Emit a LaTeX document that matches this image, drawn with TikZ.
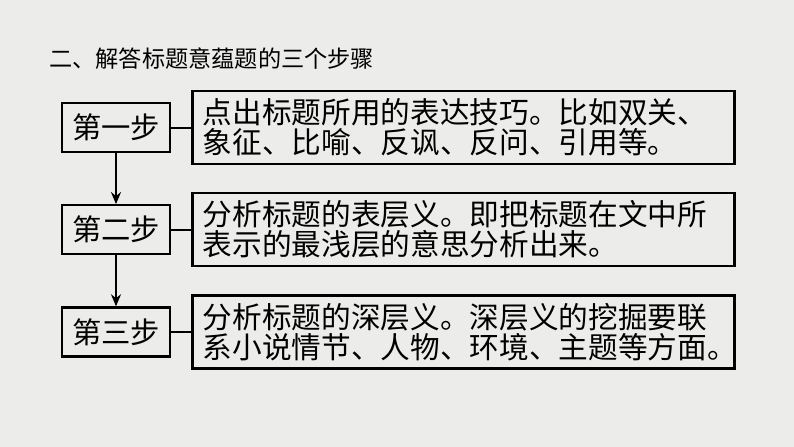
\documentclass[tikz,border=0pt]{standalone}
\usepackage{fontspec}
\setmainfont{Noto Sans CJK SC}
\usetikzlibrary{positioning,arrows.meta}

\definecolor{paper}{RGB}{236,236,234}

\tikzset{
  stepbox/.style={draw, line width=1.65pt, minimum width=81pt, minimum height=36.75pt,
    inner sep=0pt, font=\fontsize{22pt}{22.5pt}\selectfont},
  descbox/.style={draw, line width=1.8pt, minimum width=406.5pt, minimum height=54.75pt,
    inner xsep=8pt, inner ysep=0pt, text width=390.5pt, align=left,
    font=\fontsize{22.25pt}{22.5pt}\selectfont},
  flow/.style={line width=1.2pt, -{Stealth[length=9pt,width=7.5pt]}},
  tie/.style={line width=1.5pt}
}

\begin{document}
\begin{tikzpicture}[x=0.75pt,y=-0.75pt]

  \fill[paper] (0,0) rectangle (794,447);
  \useasboundingbox (0,0) rectangle (794,447);

  \node[anchor=west, inner sep=0pt, font=\fontsize{17.4pt}{18pt}\selectfont] (title) at (49,59)
    {二、解答标题意蕴题的三个步骤};

  \node[stepbox] (step1) at (116,127.5) {第一步};
  \node[stepbox, below=38.25pt of step1] (step2) {第二步};
  \node[stepbox, below=38.25pt of step2] (step3) {第三步};

  \node[descbox, right=15pt of step1] (desc1)
    {点出标题所用的表达技巧。比如双关、\\象征、比喻、反讽、反问、引用等。};
  \node[descbox, right=15pt of step2] (desc2)
    {分析标题的表层义。即把标题在文中所\\表示的最浅层的意思分析出来。};
  \node[descbox, right=15pt of step3] (desc3)
    {分析标题的深层义。深层义的挖掘要联\\系小说情节、人物、环境、主题等方面。};

  \draw[flow] (step1) -- (step2);
  \draw[flow] (step2) -- (step3);

  \draw[tie] (step1) -- (desc1);
  \draw[tie] (step2) -- (desc2);
  \draw[tie] (step3) -- (desc3);

\end{tikzpicture}
\end{document}
